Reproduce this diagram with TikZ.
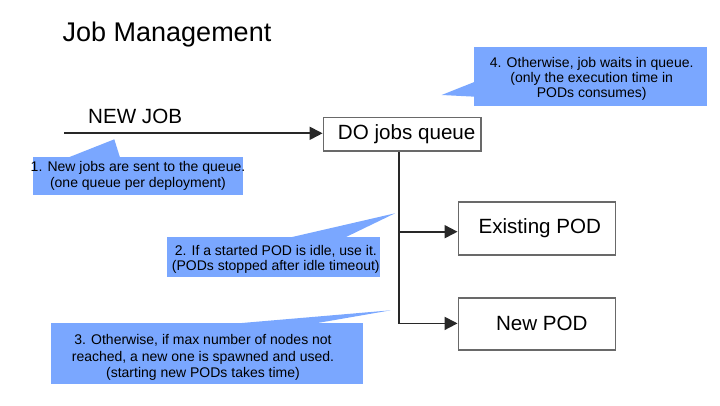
\documentclass[tikz,border=0pt]{standalone}
\usepackage{fontspec}
\setmainfont{Liberation Sans}
\usetikzlibrary{arrows.meta}
\definecolor{callblue}{RGB}{122,167,255}
\definecolor{lineg}{RGB}{40,40,40}
\definecolor{boxg}{RGB}{105,105,105}
\begin{document}
\begin{tikzpicture}[x=1pt,y=-1pt,
  boxnode/.style={draw=boxg,line width=1.5pt,fill=white,inner sep=0pt,font=\fontsize{20.6}{24}\selectfont},
  conn/.style={draw=lineg,line width=1.8pt,-{Triangle[length=13pt,width=13pt]}},
  callout/.style={fill=callblue,draw=none,inner sep=0pt},
  calltext/.style={align=center,inner sep=0pt},
  cpointer/.style={fill=callblue,draw=none}
]
\useasboundingbox (0,0) rectangle (720,405);

% title
\node[anchor=base west,inner sep=0pt,font=\fontsize{27}{32}\selectfont] (title) at (62.5,41.7) {Job Management};

% callouts (behind)
\fill[cpointer] (68.3,157.5) -- (114.3,139.3) -- (120,157.5) -- cycle;
\node[callout,minimum width=210pt,minimum height=38.3pt] (c1) at (137.7,175.9) {};
\node[calltext,font=\fontsize{14}{16}\selectfont] (c1t) at (138,176.3) {1. New jobs are sent to the queue.\\(one queue per deployment)};

\fill[cpointer] (290,237.5) -- (395,213.3) -- (345,237.5) -- cycle;
\node[callout,minimum width=212.7pt,minimum height=40pt] (c2) at (273.65,256.7) {};
\node[calltext,font=\fontsize{14}{15}\selectfont] (c2t) at (275.8,258.9) {2. If a started POD is idle, use it.\\(PODs stopped after idle timeout)};

\fill[cpointer] (230,324) -- (390.7,310.3) -- (311.7,324) -- cycle;
\node[callout,minimum width=312.3pt,minimum height=60.7pt] (c3) at (207.15,353.65) {};
\node[calltext,font=\fontsize{14}{16.2}\selectfont] (c3t) at (203,357.5) {3. Otherwise, if max number of nodes not\\reached, a new one is spawned and used.\\(starting new PODs takes time)};

\fill[cpointer] (475,81.7) -- (441.7,95) -- (475,96.7) -- cycle;
\node[callout,minimum width=232.4pt,minimum height=59.3pt] (c4) at (590.5,76.35) {};
\node[calltext,font=\fontsize{14}{14.8}\selectfont] (c4t) at (591.7,78.85) {4. Otherwise, job waits in queue.\\(only the execution time in\\PODs consumes)};

% new job label and input line
\node[anchor=base west,inner sep=0pt,font=\fontsize{20.6}{24}\selectfont] (newjob) at (88,123.3) {NEW JOB};

% boxes
\node[boxnode,minimum width=157.7pt,minimum height=33.7pt] (DO) at (402.2,134.2) {\hspace*{9pt}DO jobs queue};
\node[boxnode,minimum width=157pt,minimum height=53.3pt] (EP) at (536.8,228.4) {\hspace*{6pt}Existing POD};
\node[boxnode,minimum width=157pt,minimum height=52.3pt] (NP) at (536.8,323.9) {\hspace*{10pt}New POD};

% connectors
\coordinate (start) at (64,133.3);
\draw[conn] (start) -- (start -| DO.west);
\path (DO.south) ++(-2.9,0) coordinate (trunk);
\draw[conn] (trunk) |- ([yshift=-3.3pt]EP.west);
\draw[conn] (trunk) |- ([yshift=0.5pt]NP.west);
\end{tikzpicture}
\end{document}
